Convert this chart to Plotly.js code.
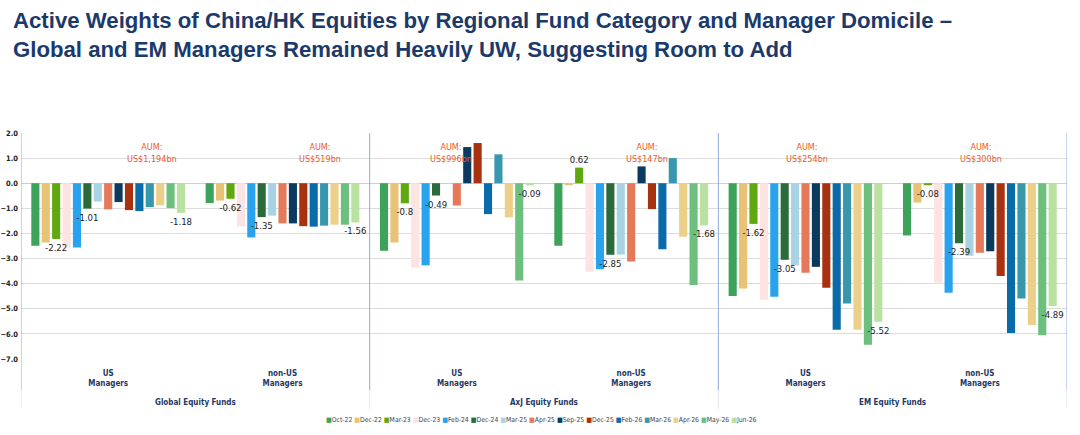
<!DOCTYPE html>
<html>
<head>
<meta charset="utf-8">
<script src="https://cdn.plot.ly/plotly-3.0.1.min.js"></script>
<style>
  html, body { margin: 0; padding: 0; background: #fff; }
  #chart { width: 1080px; height: 435px; }
</style>
</head>
<body>
<div id="chart"></div>
<script>
// categories: fund category x manager domicile
const fundGroups = ['Global Equity Funds', 'AxJ Equity Funds', 'EM Equity Funds'];
const managerLabels = ['US<br>Managers', 'non-US<br>Managers'];
const categories = ['G-US', 'G-nonUS', 'A-US', 'A-nonUS', 'E-US', 'E-nonUS'];
const aumLabels = ['AUM:<br>US$1,194bn', 'AUM:<br>US$519bn', 'AUM:<br>US$996bn',
                   'AUM:<br>US$147bn', 'AUM:<br>US$254bn', 'AUM:<br>US$300bn'];

// series, order matches categories
const seriesNames = ['Oct-22', 'Dec-22', 'Mar-23', 'Dec-23', 'Feb-24', 'Dec-24', 'Mar-25', 'Apr-25',
                     'Sep-25', 'Dec-25', 'Feb-26', 'Mar-26', 'Apr-26', 'May-26', 'Jun-26'];
const oct22 = [-2.49, -0.79, -2.69, -2.49, -4.49, -2.08];
const dec22 = [-2.36, -0.69, -2.36, -0.08, -4.19, -0.77];
const mar23 = [-2.22, -0.62, -0.8, 0.62, -1.62, -0.08];
const dec23 = [-2.56, -1.72, -3.36, -3.53, -4.64, -4.0];
const feb24 = [-2.56, -2.16, -3.27, -3.43, -4.52, -4.36];
const dec24 = [-1.01, -1.35, -0.49, -2.85, -3.05, -2.39];
const mar25 = [-0.73, -1.29, 0.0, -2.84, -3.27, -2.89];
const apr25 = [-1.04, -1.6, -0.89, -3.12, -3.57, -2.77];
const sep25 = [-0.75, -1.6, 1.44, 0.67, -3.33, -2.71];
const dec25 = [-1.07, -1.71, 1.6, -1.03, -4.16, -3.69];
const feb26 = [-1.11, -1.73, -1.23, -2.63, -5.84, -5.96];
const mar26 = [-0.95, -1.69, 1.15, 1.0, -4.79, -4.59];
const apr26 = [-0.88, -1.65, -1.36, -2.13, -5.84, -5.65];
const may26 = [-0.99, -1.65, -3.87, -4.05, -6.43, -6.05];
const jun26 = [-1.18, -1.56, -0.09, -1.68, -5.52, -4.89];

const seriesValues = [oct22, dec22, mar23, dec23, feb24, dec24, mar25, apr25,
                      sep25, dec25, feb26, mar26, apr26, may26, jun26];
const labelledSeries = ['Mar-23', 'Dec-24', 'Jun-26'];

const colours = ['#3da35a', '#e8c275', '#5fa80f', '#fde3e1', '#2aa3ee', '#2b6b3b', '#a9d3e3', '#e57a5a',
                 '#0c3a5f', '#a8320f', '#0b6aa8', '#3797ad', '#ecd089', '#6cbf7c', '#b9e2a0'];

const narrow = 'Liberation Sans Narrow, DejaVu Sans Condensed, Arial Narrow, sans-serif';
const navy = '#1f3864';

// grouped-bar geometry inside each category (share of one category)
const groupSpan = 0.895;
const slot = groupSpan / seriesNames.length;
const barW = slot * 0.78;

let plain = [], labelled = [];
seriesNames.forEach(function (name, i) {
  let tr = {
    type: 'bar',
    name: name,
    x: categories,
    y: seriesValues[i],
    width: barW,
    offset: -groupSpan / 2 + i * slot + (slot - barW) / 2,
    marker: {color: colours[i], line: {width: 0}},
    hoverinfo: 'name+y'
  };
  if (labelledSeries.indexOf(name) >= 0) {
    tr.text = seriesValues[i].map(String);
    tr.textposition = 'outside';
    tr.constraintext = 'none';
    tr.cliponaxis = false;
    tr.textfont = {family: narrow, size: 9.5, color: '#222'};
    labelled.push(tr);
  } else {
    plain.push(tr);
  }
});
// labelled series drawn last so their numbers sit on top of neighbouring bars
let traces = plain.concat(labelled);

// x positions (category index) of the AUM notes
const aumX = [0.25, 1.215, 1.967, 3.09, 4.01, 5.008];

let annotations = [];
annotations.push({
  text: '<b>Active Weights of China/HK Equities by Regional Fund Category and Manager Domicile –<br>' +
        'Global and EM Managers Remained Heavily UW, Suggesting Room to Add</b>',
  xref: 'paper', yref: 'paper', x: -10 / 1046, y: 1 + 127 / 226.5,
  xanchor: 'left', yanchor: 'top', align: 'left', showarrow: false,
  font: {family: 'Liberation Sans, Arial, sans-serif', size: 22.2, color: '#1b3a6b'}
});
aumLabels.forEach(function (t, i) {
  annotations.push({
    text: t, xref: 'x', yref: 'y', x: aumX[i], y: 1.22,
    showarrow: false, align: 'center',
    font: {family: narrow, size: 9, color: '#f0582a'}
  });
});
fundGroups.forEach(function (g, i) {
  annotations.push({
    text: '<b>' + g + '</b>', xref: 'x', yref: 'paper', x: 2 * i + 0.5, y: -0.192,
    yanchor: 'middle', showarrow: false,
    font: {family: narrow, size: 8, color: navy}
  });
});
// compact legend row
let legendText = seriesNames.map(function (n, i) {
  return '<span style="color:' + colours[i] + '">■</span>' + n;
}).join(' ');
annotations.push({
  text: legendText, xref: 'paper', yref: 'paper', x: (541 - 21) / 1046, y: -0.2715,
  xanchor: 'center', yanchor: 'middle', showarrow: false,
  font: {family: narrow, size: 6.8, color: '#444'}
});

// panel dividers
let shapes = [];
[-0.5, 1.5, 3.5, 5.5].forEach(function (xv) {
  shapes.push({type: 'line', xref: 'x', yref: 'paper', x0: xv, x1: xv, y0: 1, y1: -0.139,
               line: {color: '#8faadc', width: 1}});
  shapes.push({type: 'line', xref: 'x', yref: 'paper', x0: xv, x1: xv, y0: -0.139, y1: -0.22,
               line: {color: '#e4e8f0', width: 1}});
});

let layout = {
  width: 1080,
  height: 435,
  margin: {l: 21, r: 13, t: 133, b: 75.5, pad: 0},
  paper_bgcolor: '#fff',
  plot_bgcolor: '#fff',
  showlegend: false,
  barmode: 'overlay',
  xaxis: {
    type: 'category',
    tickvals: categories,
    ticktext: managerLabels.concat(managerLabels, managerLabels).map(function (t) { return '<b>' + t + '</b>'; }),
    ticks: '',
    showgrid: false,
    zeroline: false,
    showline: false,
    range: [-0.5, 5.5],
    ticklabelstandoff: 8,
    tickfont: {family: narrow, size: 8, color: navy},
    fixedrange: true
  },
  yaxis: {
    range: [-7, 2],
    dtick: 1,
    tickformat: '.1f',
    showgrid: true,
    gridcolor: '#dcdcdc',
    gridwidth: 1,
    zeroline: true,
    zerolinecolor: '#cfcfcf',
    zerolinewidth: 1,
    showline: false,
    ticks: '',
    ticklabelstandoff: 2,
    tickfont: {family: narrow, size: 7.5, color: '#222', weight: 'bold'},
    fixedrange: true
  },
  annotations: annotations,
  shapes: shapes
};

Plotly.newPlot('chart', traces, layout, {displayModeBar: false, staticPlot: true});
</script>
</body>
</html>
